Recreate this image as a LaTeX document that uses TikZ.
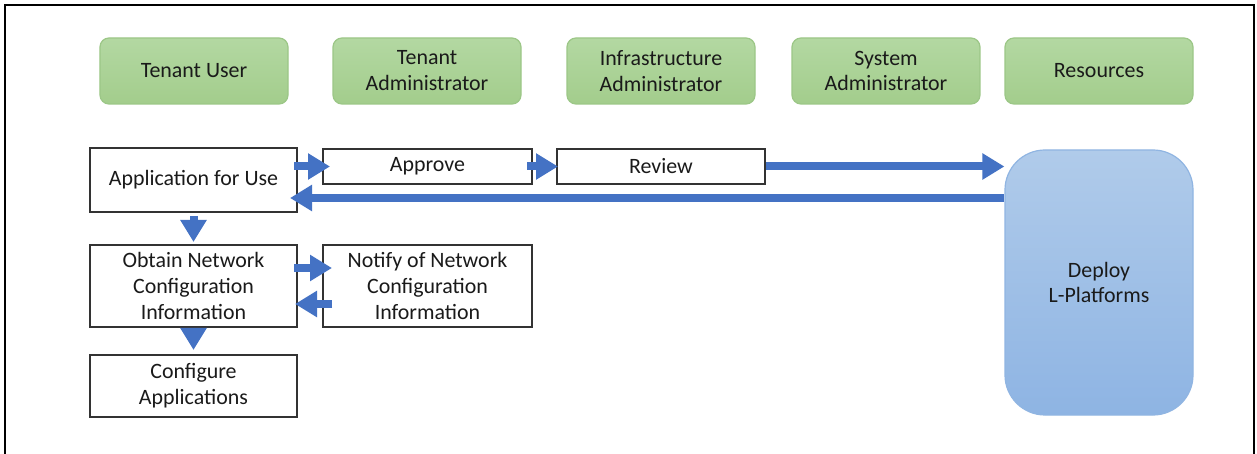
\documentclass[tikz,border=0pt]{standalone}
\usepackage{fontspec}
\setmainfont{Carlito}
\usetikzlibrary{arrows.meta}
\definecolor{barrowc}{HTML}{4472C4}
\definecolor{gtop}{HTML}{B3D8A2}
\definecolor{gbot}{HTML}{A3CD8C}
\definecolor{gline}{HTML}{9CC787}
\definecolor{btop}{HTML}{B0CBEA}
\definecolor{bbot}{HTML}{8EB4E3}
\definecolor{bline}{HTML}{90B5E2}
\definecolor{txt}{HTML}{1A1A1A}
\definecolor{boxline}{HTML}{333333}
\tikzset{
  every node/.style={font=\fontsize{22}{26}\selectfont, text=txt, align=center, inner sep=0pt},
  rolebox/.style={draw=gline, line width=1.2bp, top color=gtop, bottom color=gbot, rounded corners=9bp, minimum width=188bp, minimum height=66bp},
  stepbox/.style={draw=boxline, line width=2bp, fill=white, minimum width=207bp},
  deploybox/.style={draw=bline, line width=1.2bp, top color=btop, bottom color=bbot, rounded corners=40bp, minimum width=188bp, minimum height=265bp},
  barrow/.style={draw=barrowc, line width=8bp, -{Triangle[length=22bp,width=25bp]}},
}
\begin{document}
\begin{tikzpicture}[x=1bp,y=-1bp]
\useasboundingbox (0,0) rectangle (1257,454);
\fill[white] (0,0) rectangle (1257,454);
% frame
\draw[line width=2bp, black] (5,454) -- (5,5) -- (1254,5) -- (1254,454);
% role headers
\node[rolebox] (tu) at (194,71) {Tenant User};
\node[rolebox] (ta) at (427,71) {Tenant\\Administrator};
\node[rolebox] (ia) at (661,71) {Infrastructure\\Administrator};
\node[rolebox] (sa) at (886,71) {System\\Administrator};
\node[rolebox] (rs) at (1099,71) {Resources};
% steps
\node[stepbox, minimum height=64bp] (app) at (193.5,180) {Application for Use};
\node[stepbox, minimum width=209bp, minimum height=35bp] (approve) at (427.5,166.5) {Approve};
\node[stepbox, minimum width=208bp, minimum height=35bp] (review) at (661,166.5) {Review};
\node[deploybox] (deploy) at (1099,282.5) {Deploy\\L-Platforms};
\node[stepbox, minimum height=82bp] (obtain) at (193.5,286) {Obtain Network\\Configuration\\Information};
\node[stepbox, minimum width=209bp, minimum height=82bp] (notify) at (427.5,286) {Notify of Network\\Configuration\\Information};
\node[stepbox, minimum height=62bp] (conf) at (193.5,386) {Configure\\Applications};
% connectors
\draw[barrow] ([xshift=-4bp]app.east |- approve.west) -- ([xshift=8bp]approve.west);
\draw[barrow] ([xshift=-6bp]approve.east) -- ([xshift=2bp]review.west);
\draw[barrow] (review.east) -- (deploy.west |- review.east);
\coordinate (ret) at (0,198);
\draw[barrow] (deploy.west |- ret) -- ([xshift=-8bp]app.east |- ret);
\draw[barrow] ([yshift=-3bp]app.south) -- ([yshift=2bp]obtain.north);
\coordinate (o1) at (0,268);
\coordinate (o2) at (0,304);
\draw[barrow] ([xshift=-4bp]obtain.east |- o1) -- ([xshift=10bp]notify.west |- o1);
\draw[barrow] ([xshift=10bp]notify.west |- o2) -- ([xshift=-3bp]obtain.east |- o2);
\draw[barrow] ([yshift=-4bp]obtain.south) -- ([yshift=4bp]conf.north);
\end{tikzpicture}
\end{document}
